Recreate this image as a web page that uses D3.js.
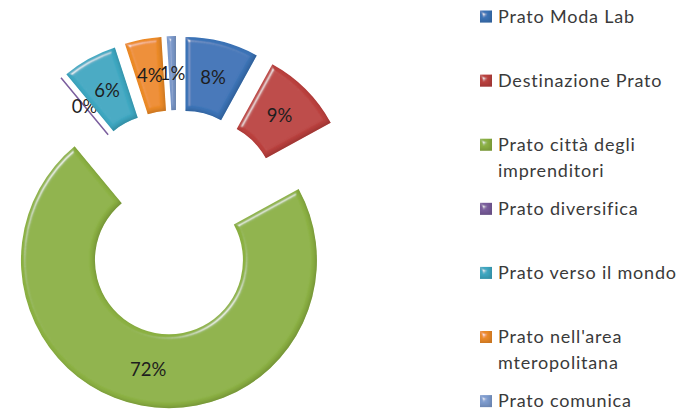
<!DOCTYPE html>
<html>
<head>
<meta charset="utf-8">
<script src="https://cdn.jsdelivr.net/npm/d3@7"></script>
<style>
  body { margin: 0; background: #fff; }
  text { font-family: Lato, "Open Sans", sans-serif; }
</style>
</head>
<body>
<div id="chart"></div>
<script>
var svgWidth = 694;
var svgHeight = 411;

// data
var categories = ["Prato Moda Lab", "Destinazione Prato", "Prato città degli imprenditori",
  "Prato diversifica", "Prato verso il mondo", "Prato nell'area mteropolitana", "Prato comunica"];
var values = [8, 9, 72, 0, 6, 4, 1];
var colors = ["#3C74B8", "#BC423F", "#8DB245", "#7B5E9E", "#40A9C3", "#EE8C2C", "#7F9DD0"];

var center = { x: 177, y: 218 };
var innerR = 74, outerR = 148;

var svg = d3.select("#chart")
  .append("svg")
  .attr("width", svgWidth)
  .attr("height", svgHeight);

// bevel look like the office chart
var defs = svg.append("defs");
var bevel = defs.append("filter")
  .attr("id", "bevel")
  .attr("x", "-10%").attr("y", "-10%")
  .attr("width", "120%").attr("height", "120%");
bevel.append("feGaussianBlur")
  .attr("in", "SourceAlpha")
  .attr("stdDeviation", 2)
  .attr("result", "blur");
var spec = bevel.append("feSpecularLighting")
  .attr("in", "blur")
  .attr("surfaceScale", 4)
  .attr("specularConstant", 0.7)
  .attr("specularExponent", 28)
  .attr("lighting-color", "#ffffff")
  .attr("result", "spec");
spec.append("feDistantLight").attr("azimuth", 225).attr("elevation", 35);
bevel.append("feComposite")
  .attr("in", "spec").attr("in2", "SourceAlpha")
  .attr("operator", "in").attr("result", "specIn");
// dark rim on the lower right edges
bevel.append("feOffset")
  .attr("in", "blur").attr("dx", -2).attr("dy", -2)
  .attr("result", "offBlur");
bevel.append("feComposite")
  .attr("in", "SourceAlpha").attr("in2", "offBlur")
  .attr("operator", "arithmetic")
  .attr("k1", 0).attr("k2", 1).attr("k3", -1).attr("k4", 0)
  .attr("result", "rim");
bevel.append("feFlood").attr("flood-color", "#000").attr("flood-opacity", 0.35).attr("result", "dark");
bevel.append("feComposite")
  .attr("in", "dark").attr("in2", "rim")
  .attr("operator", "in").attr("result", "shade");
var merge = bevel.append("feMerge");
merge.append("feMergeNode").attr("in", "SourceGraphic");
merge.append("feMergeNode").attr("in", "shade");
merge.append("feMergeNode").attr("in", "specIn");

var pie = d3.pie().sort(null).value(d => d.value);
var arc = d3.arc().innerRadius(innerR).outerRadius(outerR);

var pieData = pie(categories.map((c, i) => ({ name: c, value: values[i], color: colors[i] })));

function explodeOffset(d) {
  var dist = d.data.value > 50 ? 43 : 34;
  var mid = (d.startAngle + d.endAngle) / 2;
  return [Math.sin(mid) * dist, -Math.cos(mid) * dist];
}

var chartGroup = svg.append("g")
  .attr("transform", `translate(${center.x}, ${center.y})`);

var slices = chartGroup.selectAll("g.slice")
  .data(pieData)
  .enter()
  .append("g")
  .attr("class", "slice")
  .attr("transform", d => `translate(${explodeOffset(d)})`);

slices.append("path")
  .attr("d", arc)
  .attr("fill", d => d.data.color)
  .attr("stroke", d => d.data.value === 0 ? d.data.color : "none")
  .attr("stroke-width", 1.5)
  .attr("filter", d => d.data.value === 0 ? null : "url(#bevel)");

slices.append("text")
  .attr("transform", d => `translate(${arc.centroid(d)})`)
  .attr("text-anchor", "middle")
  .attr("dy", "0.35em")
  .attr("font-size", "18.5px")
  .attr("fill", "#1e1e1e")
  .text(d => d.data.value + "%");

// legend
var legend = svg.append("g")
  .attr("transform", "translate(480, 16.5)");

var items = legend.selectAll("g")
  .data(pieData)
  .enter()
  .append("g")
  .attr("transform", (d, i) => `translate(0, ${i * 64.1})`);

items.append("rect")
  .attr("x", 0)
  .attr("y", -6)
  .attr("width", 12)
  .attr("height", 12)
  .attr("fill", d => d.data.color)
  .attr("filter", "url(#bevel)");

items.append("text")
  .attr("x", 18)
  .attr("font-size", "18px")
  .attr("letter-spacing", "0.8px")
  .attr("fill", "#3a3a3a")
  .each(function(d) {
    var t = d3.select(this);
    var words = d.data.name.split(" ");
    var line = [];
    var lineNo = 0;
    var tspan = t.append("tspan").attr("x", 18).attr("y", 0).attr("dy", "0.35em");
    words.forEach(function(w) {
      line.push(w);
      tspan.text(line.join(" "));
      if (tspan.node().getComputedTextLength() > 194 && line.length > 1) {
        line.pop();
        tspan.text(line.join(" "));
        line = [w];
        lineNo++;
        tspan = t.append("tspan").attr("x", 18).attr("y", lineNo * 26)
          .attr("dy", "0.35em").text(w);
      }
    });
  });
</script>
</body>
</html>
